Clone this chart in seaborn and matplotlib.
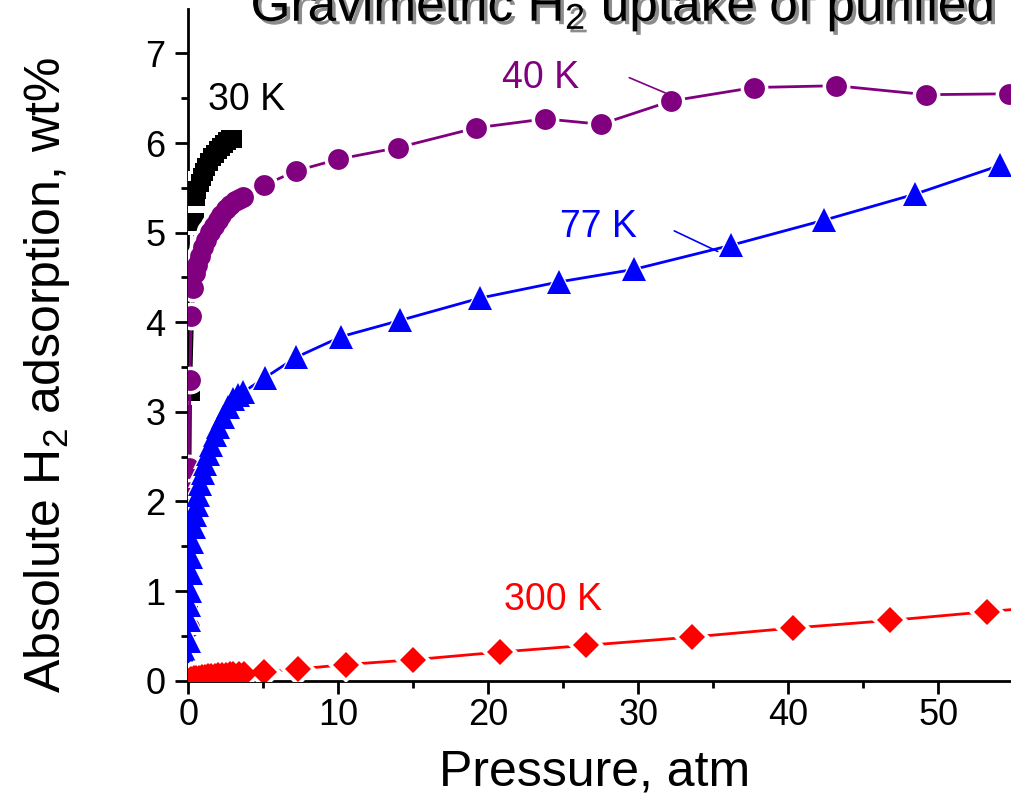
import numpy as np
import pandas as pd
import matplotlib
matplotlib.use("Agg")
import matplotlib.pyplot as plt
import matplotlib.patheffects as pe
import seaborn as sns

# ---------------- data ----------------
p_30K = [0.05, 0.15, 0.45, 0.5, 0.6, 0.75, 0.9, 1.05, 1.2, 1.4, 1.6, 1.8, 2.0, 2.2, 2.4, 2.6, 2.8, 3.0]
w_30K = [0.82, 3.22, 5.12, 5.40, 5.48, 5.55, 5.62, 5.68, 5.73, 5.79, 5.84, 5.88, 5.92, 5.96, 5.99, 6.02, 6.04, 6.05]

p_40K = [0.02, 0.05, 0.1, 0.2, 0.33, 0.45, 0.6, 0.8, 1.0, 1.2, 1.45, 1.7, 1.95, 2.2, 2.5, 2.8, 3.1, 3.4, 3.67,
         5.05, 7.2, 10.0, 14.0, 19.2, 23.8, 27.5, 32.2, 37.7, 43.2, 49.2, 54.7]
w_40K = [0.60, 2.37, 3.36, 4.07, 4.38, 4.55, 4.64, 4.74, 4.84, 4.92, 5.01, 5.08, 5.14, 5.20, 5.26, 5.31, 5.35, 5.38, 5.40,
         5.53, 5.69, 5.82, 5.95, 6.17, 6.27, 6.21, 6.47, 6.62, 6.64, 6.54, 6.55]

p_77K = [0.02, 0.04, 0.06, 0.08, 0.1, 0.15, 0.2, 0.27, 0.35, 0.45, 0.55, 0.67, 0.8, 0.95, 1.1, 1.3, 1.5, 1.75,
         2.0, 2.3, 2.65, 3.0, 3.3, 3.65,
         5.1, 7.2, 10.2, 14.1, 19.45, 24.7, 29.7, 36.2, 42.4, 48.45, 54.1]
w_77K = [0.23, 0.44, 0.68, 0.85, 1.00, 1.20, 1.38, 1.55, 1.72, 1.85, 1.96, 2.07, 2.20, 2.32, 2.42, 2.53, 2.63, 2.74,
         2.83, 2.94, 3.06, 3.14, 3.19, 3.22,
         3.38, 3.61, 3.84, 4.02, 4.27, 4.45, 4.59, 4.86, 5.14, 5.43, 5.75]

p_300K = [0.02, 0.1, 0.2, 0.35, 0.5, 0.7, 0.9, 1.1, 1.3, 1.5, 1.75, 2.0, 2.25, 2.5, 2.75, 3.0, 3.4, 3.7,
          5.05, 7.3, 10.5, 15.0, 20.8, 26.5, 33.55, 40.3, 46.8, 53.25, 59.5]
w_300K = [0.00, 0.01, 0.02, 0.025, 0.03, 0.035, 0.04, 0.045, 0.05, 0.05, 0.055, 0.06, 0.06, 0.065, 0.07, 0.07, 0.075, 0.08,
          0.10, 0.13, 0.18, 0.234, 0.32, 0.394, 0.487, 0.588, 0.673, 0.77, 0.86]

series_labels = ["30 K", "40 K", "77 K", "300 K"]
x_ticks = [0, 10, 20, 30, 40, 50]
y_ticks = [0, 1, 2, 3, 4, 5, 6, 7]

# ---------------- style ----------------
sns.set_style("ticks")
plt.rcParams["font.family"] = ["Liberation Sans", "DejaVu Sans"]
plt.rcParams["mathtext.fontset"] = "custom"
plt.rcParams["mathtext.rm"] = "Liberation Sans"
plt.rcParams["mathtext.it"] = "Liberation Sans"
plt.rcParams["text.color"] = "black"
plt.rcParams["xtick.color"] = "black"
plt.rcParams["ytick.color"] = "black"
plt.rcParams["xtick.labelcolor"] = "black"
plt.rcParams["ytick.labelcolor"] = "black"

fig = plt.figure(figsize=(10.11, 8.11), dpi=100)
ax = fig.add_axes([0.18625, 0.16067, 0.81375, 0.82787])

styles = [
    (p_30K, w_30K, "black", "s", 13),
    (p_40K, w_40K, "#800080", "o", 15),
    (p_77K, w_77K, "#0000FF", "^", 17),
    (p_300K, w_300K, "#FF0000", "D", 13),
]

for i, (px, wy, col, mk, ms) in enumerate(styles):
    df = pd.DataFrame({"p": px, "w": wy})
    z = 2 + i * 3
    sns.lineplot(data=df, x="p", y="w", sort=False, estimator=None, color=col,
                 lw=2.0, ax=ax, legend=False, zorder=z)
    sns.lineplot(data=df, x="p", y="w", sort=False, estimator=None, color="white",
                 linestyle="", marker=mk, markersize=ms + 5, markeredgewidth=0,
                 ax=ax, legend=False, zorder=z + 1)
    sns.lineplot(data=df, x="p", y="w", sort=False, estimator=None, color=col,
                 linestyle="", marker=mk, markersize=ms, markeredgewidth=0,
                 ax=ax, legend=False, zorder=z + 2)

ax.set_xlim(0, 54.85)
ax.set_ylim(0, 7.493)
ax.set_xticks(x_ticks)
ax.set_yticks(y_ticks)
ax.set_xticks([5, 15, 25, 35, 45], minor=True)
ax.set_yticks([0.5, 1.5, 2.5, 3.5, 4.5, 5.5, 6.5], minor=True)
ax.tick_params(axis="both", which="major", direction="out", length=9.5, width=2, labelsize=26,
               color="black", labelcolor="black")
ax.tick_params(axis="both", which="minor", direction="out", length=5, width=2, color="black")
ax.tick_params(axis="x", which="major", pad=3)
ax.tick_params(axis="y", which="major", pad=7)
for s in ["top", "right"]:
    ax.spines[s].set_visible(False)
for s in ["left", "bottom"]:
    ax.spines[s].set_linewidth(2)
    ax.spines[s].set_color("black")
ax.set_xlabel("")
ax.set_ylabel("")
ax.grid(False)

# axis labels
fig.text(595 / 1011, 0.032, "Pressure, atm", fontsize=36, ha="center", va="baseline", color="black")
fig.text(47 / 1011, 0.538, "Absolute H$_2$ adsorption, wt%", fontsize=36, rotation=90,
         ha="center", va="center", color="black")

# clipped title with shadow
fig.text(622 / 1011, 1 - 21 / 811, "Gravimetric H$_2$ uptake of purified", fontsize=37,
         ha="center", va="baseline", color="black",
         path_effects=[pe.SimplePatchShadow(offset=(2.5, -2.5), shadow_rgbFace="0.55", alpha=1.0), pe.Normal()])

# annotations
ax.text(1.31, 6.37, series_labels[0], color="black", fontsize=27, ha="left", va="baseline", zorder=20)
ax.annotate(series_labels[1], xy=(31.8, 6.56), xytext=(20.9, 6.61), color="#800080", fontsize=27,
            ha="left", va="baseline", zorder=20)
ax.annotate("", xy=(31.8, 6.56), xytext=(29.4, 6.73),
            arrowprops=dict(arrowstyle="-", color="#800080", lw=1.2, shrinkA=0, shrinkB=0), zorder=20)
ax.text(24.8, 4.955, series_labels[2], color="#0000FF", fontsize=27, ha="left", va="baseline", zorder=20)
ax.annotate("", xy=(35.3, 4.79), xytext=(32.4, 5.02),
            arrowprops=dict(arrowstyle="-", color="#0000FF", lw=1.2, shrinkA=0, shrinkB=0), zorder=20)
ax.text(21.05, 0.79, series_labels[3], color="#FF0000", fontsize=27, ha="left", va="baseline", zorder=20)

fig.savefig("out.png", dpi=100)
